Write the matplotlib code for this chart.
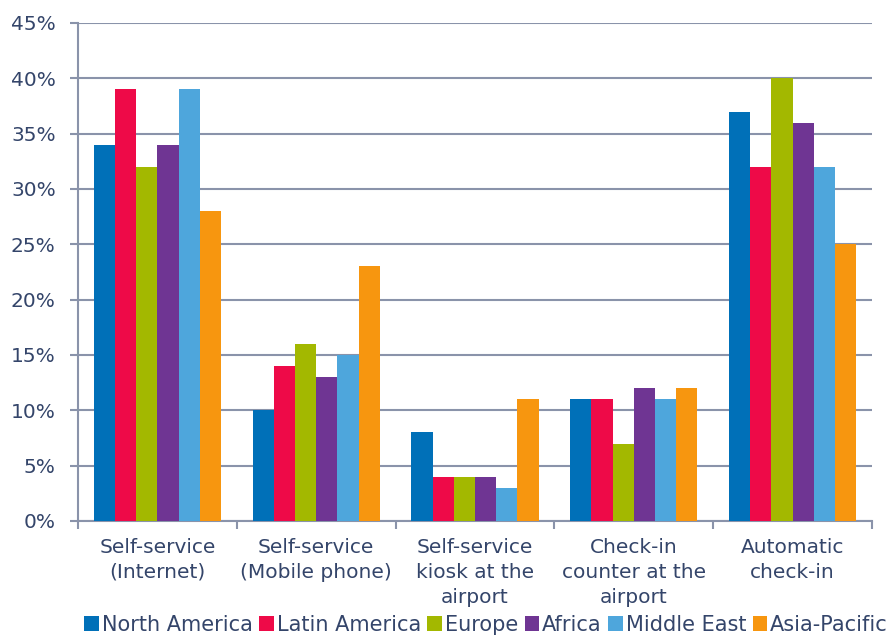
import matplotlib
matplotlib.use("Agg")
import matplotlib.pyplot as plt
import numpy as np
from matplotlib.patches import Patch

plt.rcParams['font.family'] = ['DejaVu Sans']

categories = ["Self-service\n(Internet)", "Self-service\n(Mobile phone)",
              "Self-service\nkiosk at the\nairport", "Check-in\ncounter at the\nairport",
              "Automatic\ncheck-in"]
regions = ["North America", "Latin America", "Europe", "Africa", "Middle East", "Asia-Pacific"]
values = {
    "North America": [34, 10, 8, 11, 37],
    "Latin America": [39, 14, 4, 11, 32],
    "Europe":        [32, 16, 4, 7, 40],
    "Africa":        [34, 13, 4, 12, 36],
    "Middle East":   [39, 15, 3, 11, 32],
    "Asia-Pacific":  [28, 23, 11, 12, 25],
}
colors = ["#0070b8", "#ee0a48", "#a3b800", "#6f3593", "#4ea6dc", "#f7960f"]
yticks = [0, 5, 10, 15, 20, 25, 30, 35, 40, 45]

text_color = "#34456a"
grid_color = "#8a93aa"

fig = plt.figure(figsize=(8.92, 6.38), dpi=100)
ax = fig.add_axes([0.0874, 0.1834, 0.8902, 0.7806])

n = len(regions)
x = np.arange(len(categories))
width = 0.8 / n
for i, (r, c) in enumerate(zip(regions, colors)):
    ax.bar(x - 0.4 + width * (i + 0.5), values[r], width, color=c, zorder=3, linewidth=0)

ax.set_xlim(-0.5, len(categories) - 0.5)
ax.set_ylim(0, 45)
ax.set_yticks(yticks)
ax.set_yticklabels([f"{v}%" for v in yticks], fontsize=14.5, color=text_color)
ax.yaxis.grid(True, color=grid_color, linewidth=1.5, zorder=0)
ax.set_axisbelow(True)

ax.set_xticks(np.arange(len(categories) + 1) - 0.5)
ax.set_xticklabels([])
ax.set_xticks(x, minor=True)
ax.set_xticklabels(categories, minor=True, fontsize=14.5, color=text_color, linespacing=1.4)
ax.tick_params(axis='x', which='minor', length=0, pad=12)
ax.tick_params(axis='x', which='major', length=6, color=grid_color, width=1.5, direction='out')
ax.tick_params(axis='y', length=6, color=grid_color, width=1.5, pad=10)
for lab in ax.get_xticklabels(minor=True):
    lab.set_verticalalignment('top')
    lab.set_multialignment('center')

for s in ['top', 'right']:
    ax.spines[s].set_visible(False)
for s in ['left', 'bottom']:
    ax.spines[s].set_color(grid_color)
    ax.spines[s].set_linewidth(1.5)

handles = [Patch(facecolor=c, edgecolor='none') for c in colors]
fig.legend(handles, regions, loc='lower center', bbox_to_anchor=(0.545, 0.002), ncol=6,
           frameon=False, fontsize=15, handlelength=0.7, handleheight=0.7,
           handletextpad=0.15, columnspacing=0.3, labelcolor=text_color, borderaxespad=0,
           borderpad=0.1)

fig.savefig("out.png", dpi=100)
